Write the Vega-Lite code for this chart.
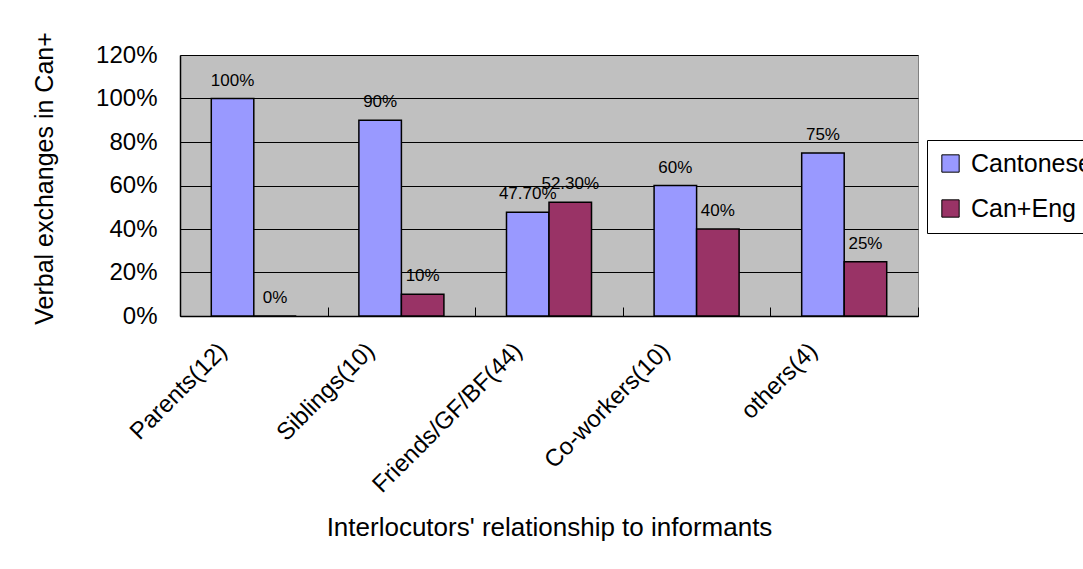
{
  "$schema": "https://vega.github.io/schema/vega-lite/v6.json",
  "width": 738,
  "height": 261,
  "autosize": "none",
  "padding": {"left": 180, "top": 55, "right": 165, "bottom": 253},
  "background": "white",
  "config": {
    "font": "Liberation Sans",
    "view": {"fill": "#C0C0C0", "stroke": "#808080", "strokeWidth": 1}
  },
  "data": {
    "values": [
      {"cat": "Parents(12)", "series": "Cantonese", "value": 1.0, "label": "100%"},
      {"cat": "Parents(12)", "series": "Can+Eng", "value": 0.0, "label": "0%"},
      {"cat": "Siblings(10)", "series": "Cantonese", "value": 0.9, "label": "90%"},
      {"cat": "Siblings(10)", "series": "Can+Eng", "value": 0.1, "label": "10%"},
      {"cat": "Friends/GF/BF(44)", "series": "Cantonese", "value": 0.477, "label": "47.70%"},
      {"cat": "Friends/GF/BF(44)", "series": "Can+Eng", "value": 0.523, "label": "52.30%"},
      {"cat": "Co-workers(10)", "series": "Cantonese", "value": 0.6, "label": "60%"},
      {"cat": "Co-workers(10)", "series": "Can+Eng", "value": 0.4, "label": "40%"},
      {"cat": "others(4)", "series": "Cantonese", "value": 0.75, "label": "75%"},
      {"cat": "others(4)", "series": "Can+Eng", "value": 0.25, "label": "25%"}
    ]
  },
  "encoding": {
    "x": {
      "field": "cat",
      "type": "nominal",
      "sort": null,
      "scale": {"paddingInner": 0, "paddingOuter": 0},
      "axis": {
        "title": "Interlocutors' relationship to informants",
        "titleFontSize": 26,
        "titleFontWeight": "normal",
        "titleColor": "black",
        "titleY": 198,
        "labelAngle": -45,
        "labelAlign": "right",
        "labelBaseline": "middle",
        "labelFontSize": 24,
        "labelColor": "black",
        "labelLimit": 400,
        "labelPadding": 40,
        "labelOffset": -31,
        "tickBand": "extent",
        "tickSize": -9,
        "tickColor": "black",
        "domainColor": "black",
        "domainWidth": 1.5
      }
    },
    "xOffset": {"field": "series", "type": "nominal", "sort": ["Cantonese", "Can+Eng"], "scale": {"domain": ["Cantonese", "Can+Eng"], "paddingInner": 0, "paddingOuter": 0.736}},
    "y": {
      "field": "value",
      "type": "quantitative",
      "scale": {"domain": [0, 1.2], "nice": false},
      "axis": {
        "values": [0, 0.2, 0.4, 0.6, 0.8, 1.0, 1.2],
        "format": ".0%",
        "title": "Verbal exchanges in Can+",
        "titleFontSize": 25,
        "titleFontWeight": "normal",
        "titleColor": "black",
        "titlePadding": 38,
        "titleY": 123,
        "labelFontSize": 24,
        "labelColor": "black",
        "labelPadding": 23,
        "tickSize": 0,
        "grid": true,
        "gridColor": "black",
        "gridWidth": 1,
        "domainColor": "black",
        "domainWidth": 1.5
      }
    }
  },
  "layer": [
    {
      "mark": {"type": "bar", "stroke": "black", "strokeWidth": 1.5},
      "encoding": {
        "color": {
          "field": "series",
          "type": "nominal",
          "scale": {"domain": ["Cantonese", "Can+Eng"], "range": ["#9999FF", "#993366"]},
          "legend": {
            "title": null,
            "orient": "none",
            "legendX": 747,
            "legendY": 85,
            "direction": "vertical",
            "fillColor": "white",
            "strokeColor": "black",
            "padding": 11,
            "symbolType": "square",
            "symbolSize": 300,
            "symbolStrokeColor": "black",
            "symbolStrokeWidth": 1,
            "symbolOpacity": 1,
            "labelFontSize": 25,
            "labelColor": "black",
            "labelLimit": 300,
            "rowPadding": 19,
            "labelOffset": 8
          }
        }
      }
    },
    {
      "mark": {"type": "text", "baseline": "bottom", "dy": -9, "fontSize": 17, "color": "black"},
      "encoding": {"text": {"field": "label"}}
    }
  ]
}
